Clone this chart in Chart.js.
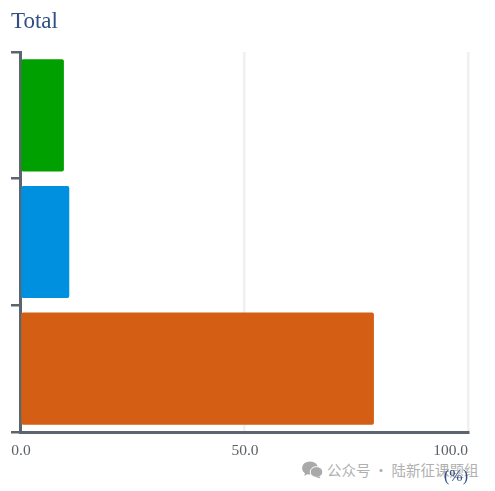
<!DOCTYPE html>
<html>
<head>
<meta charset="utf-8">
<script src="https://cdn.jsdelivr.net/npm/chart.js@4"></script>
<style>
  html, body { margin: 0; padding: 0; background: #fff; overflow: hidden; }
  #wrap { position: relative; width: 495px; height: 491px; }
  #chart { position: absolute; left: 0; top: 0; z-index: 2; }
  #mark { position: absolute; left: 302px; top: 459px; z-index: 1; display: flex; align-items: center; color: #b0b0b0; font: 14.5px "Noto Sans CJK SC"; white-space: nowrap; }
  #mark svg { margin-right: 4px; }
</style>
</head>
<body>
<div id="wrap">
  <div id="mark">
    <svg width="21" height="18" viewBox="0 0 21 18"><ellipse cx="8" cy="7" rx="8" ry="6.6" fill="#a9a9a9"/><path d="M3 11 L2.5 15 L7 12 Z" fill="#a9a9a9"/><ellipse cx="14.5" cy="11" rx="6.3" ry="5.4" fill="#a9a9a9" stroke="#fff"/><path d="M17 15 L18.5 17.5 L14 16 Z" fill="#a9a9a9"/></svg>
    <span>公众号 · 陆新征课题组</span>
  </div>
  <canvas id="chart" width="495" height="491"></canvas>
</div>
<script>
const categories = ['A', 'B', 'C'];
const values = [9.8, 11, 79];
const barColors = ['#00a000', '#0090e0', '#d45e14'];
const xTicks = [0, 50, 100];
const xTickLabels = ['0.0', '50.0', '100.0'];

const serif = '"Liberation Serif", serif';
const axisColor = '#5a6570';

// chart.js has no per-tick alignment and the last label sits inside the plot edge
const xLabels = {
  id: 'xLabels',
  afterDraw(chart) {
    const ctx = chart.ctx;
    const scale = chart.scales.x;
    ctx.save();
    ctx.font = '15.5px ' + serif;
    ctx.fillStyle = '#5c6166';
    ctx.textBaseline = 'middle';
    xTicks.forEach((t, i) => {
      const last = i === xTicks.length - 1;
      ctx.textAlign = last ? 'right' : 'center';
      ctx.fillText(xTickLabels[i], scale.getPixelForValue(t) + (last ? 0 : 1), 451);
    });
    ctx.restore();
  }
};

new Chart(document.getElementById('chart'), {
  type: 'bar',
  data: {
    labels: categories,
    datasets: [{
      data: values,
      backgroundColor: barColors,
      borderRadius: 2,
      borderSkipped: false,
      categoryPercentage: 1,
      barPercentage: 0.885
    }]
  },
  options: {
    indexAxis: 'y',
    responsive: false,
    animation: false,
    layout: { padding: { left: 11, right: 27, top: 0, bottom: 0 } },
    plugins: {
      legend: { display: false },
      tooltip: { enabled: false },
      title: {
        display: true,
        text: 'Total',
        align: 'start',
        color: '#2f4f85',
        font: { family: serif, size: 23, weight: 'normal' },
        padding: { top: 8, bottom: 16.4 }
      }
    },
    scales: {
      x: {
        min: 0,
        max: 100,
        afterBuildTicks(scale) { scale.ticks = xTicks.map(v => ({ value: v })); },
        afterFit(scale) { scale.height = 59; },
        ticks: { display: false },
        grid: { color: '#f0f0f0', lineWidth: 2.5, drawTicks: false },
        border: { color: axisColor, width: 3 },
        title: {
          display: true,
          text: '(%)',
          align: 'end',
          color: '#2f4f85',
          font: { family: serif, size: 16 },
          padding: { top: 0, bottom: 4.5 }
        }
      },
      y: {
        afterFit(scale) { scale.width = 9; },
        ticks: { display: false },
        grid: { color: axisColor, lineWidth: 2.5, tickLength: 9, drawOnChartArea: false },
        border: { color: axisColor, width: 3 }
      }
    }
  },
  plugins: [xLabels]
});
</script>
</body>
</html>
